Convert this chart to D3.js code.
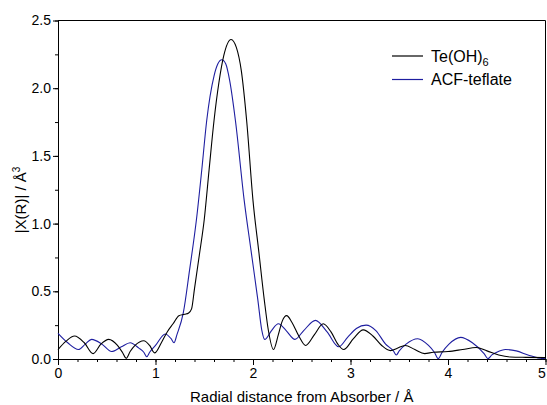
<!DOCTYPE html>
<html>
<head>
<meta charset="utf-8">
<script src="https://cdn.jsdelivr.net/npm/d3@7"></script>
<style>
  body { margin: 0; background: #fff; }
  svg text { font-family: "Liberation Sans", Arial, sans-serif; }
</style>
</head>
<body>
<div id="chart" style="width:547px;height:405px;"></div>
<script>
// radial distance R (A) and |chi(R)|
var teR = [0.00, 0.08, 0.17, 0.27, 0.36, 0.44, 0.52, 0.61, 0.66, 0.70, 0.74, 0.79, 0.88, 0.94, 0.99, 1.06, 1.12, 1.18, 1.24, 1.30, 1.34, 1.37, 1.40, 1.45, 1.50, 1.55, 1.60, 1.65, 1.70, 1.775, 1.83, 1.88, 1.935, 2.00, 2.06, 2.116, 2.157, 2.21, 2.26, 2.30, 2.345, 2.40, 2.47, 2.54, 2.63, 2.72, 2.80, 2.87, 2.93, 3.03, 3.13, 3.23, 3.32, 3.41, 3.48, 3.56, 3.66, 3.76, 3.85, 4.00, 4.15, 4.29, 4.40, 4.52, 4.64, 4.80, 5.00];
var teVal = [0.07, 0.13, 0.17, 0.12, 0.04, 0.11, 0.145, 0.10, 0.05, 0.005, 0.055, 0.10, 0.135, 0.10, 0.045, 0.12, 0.20, 0.26, 0.32, 0.33, 0.34, 0.37, 0.52, 0.77, 1.03, 1.40, 1.76, 2.04, 2.24, 2.36, 2.30, 2.13, 1.76, 1.17, 0.79, 0.435, 0.214, 0.07, 0.18, 0.28, 0.32, 0.27, 0.17, 0.10, 0.18, 0.26, 0.20, 0.11, 0.07, 0.15, 0.215, 0.17, 0.10, 0.062, 0.08, 0.10, 0.07, 0.04, 0.05, 0.055, 0.07, 0.085, 0.06, 0.03, 0.015, 0.012, 0.01];

var acfR = [0.00, 0.10, 0.21, 0.28, 0.345, 0.45, 0.55, 0.65, 0.74, 0.83, 0.88, 0.91, 0.94, 1.00, 1.10, 1.16, 1.19, 1.22, 1.285, 1.35, 1.42, 1.475, 1.525, 1.60, 1.64, 1.68, 1.72, 1.76, 1.82, 1.91, 1.98, 2.05, 2.09, 2.12, 2.19, 2.26, 2.34, 2.43, 2.52, 2.64, 2.76, 2.88, 2.97, 3.06, 3.16, 3.26, 3.36, 3.44, 3.47, 3.50, 3.57, 3.69, 3.80, 3.86, 3.90, 3.94, 4.01, 4.13, 4.25, 4.37, 4.41, 4.45, 4.50, 4.59, 4.70, 4.82, 4.97, 5.00];
var acfVal = [0.19, 0.12, 0.07, 0.11, 0.145, 0.11, 0.055, 0.09, 0.12, 0.08, 0.05, 0.017, 0.05, 0.10, 0.185, 0.15, 0.12, 0.18, 0.34, 0.66, 1.03, 1.40, 1.76, 2.09, 2.18, 2.21, 2.18, 2.06, 1.76, 1.17, 0.80, 0.435, 0.214, 0.145, 0.21, 0.26, 0.21, 0.145, 0.21, 0.285, 0.20, 0.09, 0.16, 0.225, 0.25, 0.21, 0.11, 0.06, 0.03, 0.06, 0.11, 0.15, 0.10, 0.05, 0.003, 0.05, 0.11, 0.16, 0.12, 0.04, 0.003, 0.03, 0.05, 0.07, 0.06, 0.03, 0.003, 0.005];

var xTicks = [0, 1, 2, 3, 4, 5];
var yTicks = [0, 0.5, 1.0, 1.5, 2.0, 2.5];

var width = 547, height = 405;
var margin = {top: 20.5, right: 1.5, bottom: 46, left: 58};
var blue = "#1e1ea0";

var svg = d3.select("#chart")
            .append("svg")
            .attr("width", width)
            .attr("height", height);

var x = d3.scaleLinear().domain([0, 5]).range([margin.left, width - margin.right]);
var y = d3.scaleLinear().domain([0, 2.5]).range([height - margin.bottom, margin.top]);

// frame top + right
svg.append("line")
   .attr("x1", x(0)).attr("x2", x(5))
   .attr("y1", y(2.5)).attr("y2", y(2.5))
   .attr("stroke", "#000");
svg.append("line")
   .attr("x1", x(5)).attr("x2", x(5))
   .attr("y1", y(2.5)).attr("y2", y(0))
   .attr("stroke", "#000");

// minor ticks
svg.append("g")
   .attr("transform", "translate(0," + y(0) + ")")
   .call(d3.axisBottom(x).tickValues(d3.range(0, 5.01, 0.2)).tickSize(3).tickFormat(""))
   .call(function(g) { g.select(".domain").remove(); });
svg.append("g")
   .attr("transform", "translate(" + x(0) + ",0)")
   .call(d3.axisLeft(y).tickValues(d3.range(0, 2.51, 0.25)).tickSize(3).tickFormat(""))
   .call(function(g) { g.select(".domain").remove(); });

var xAxis = svg.append("g")
               .attr("transform", "translate(0," + y(0) + ")")
               .call(d3.axisBottom(x).tickValues(xTicks).tickSize(6).tickSizeOuter(0).tickFormat(d3.format("d")));
var yAxis = svg.append("g")
               .attr("transform", "translate(" + x(0) + ",0)")
               .call(d3.axisLeft(y).tickValues(yTicks).tickSize(5).tickSizeOuter(0).tickFormat(d3.format(".1f")));

svg.selectAll(".tick text")
   .style("font-size", "14px")
   .attr("fill", "#000");
xAxis.selectAll(".tick text").attr("y", 9);
// last label sits on the window edge, pull it in a little
xAxis.selectAll(".tick text").filter(function(d) { return d === 5; }).attr("dx", -4);
yAxis.selectAll(".tick text").attr("x", -7);
svg.selectAll(".domain, .tick line").attr("stroke", "#000");

var line = d3.line()
             .x(function(d) { return x(d[0]); })
             .y(function(d) { return y(d[1]); })
             .curve(d3.curveMonotoneX);

svg.append("path")
   .datum(d3.zip(acfR, acfVal))
   .attr("fill", "none")
   .attr("stroke", blue)
   .attr("stroke-width", 1.1)
   .attr("d", line);

svg.append("path")
   .datum(d3.zip(teR, teVal))
   .attr("fill", "none")
   .attr("stroke", "#000")
   .attr("stroke-width", 1.1)
   .attr("d", line);

// axis titles
svg.append("text")
   .attr("x", (x(0) + x(5)) / 2)
   .attr("y", 402)
   .attr("text-anchor", "middle")
   .style("font-size", "15px")
   .text("Radial distance from Absorber / Å");

var yt = svg.append("text")
            .attr("transform", "translate(26," + 200 + ") rotate(-90)")
            .attr("text-anchor", "middle")
            .style("font-size", "15px");
yt.append("tspan").text("|X(R)| / Å");
yt.append("tspan").attr("dy", -6).style("font-size", "10px").text("3");

// legend
var legend = [["Te(OH)", "6", "#000"], ["ACF-teflate", "", blue]];
var lg = svg.append("g")
            .selectAll("g")
            .data(legend)
            .enter().append("g")
            .attr("transform", function(d, i) { return "translate(392," + (56 + i * 23.5) + ")"; });
lg.append("line")
  .attr("x1", 0).attr("x2", 31)
  .attr("stroke", function(d) { return d[2]; })
  .attr("stroke-width", 1.2);
var lt = lg.append("text")
           .attr("x", 39)
           .attr("y", 5.5)
           .style("font-size", "16px");
lt.append("tspan").text(function(d) { return d[0]; });
lt.append("tspan").attr("dy", 4).style("font-size", "11px").text(function(d) { return d[1]; });
</script>
</body>
</html>
